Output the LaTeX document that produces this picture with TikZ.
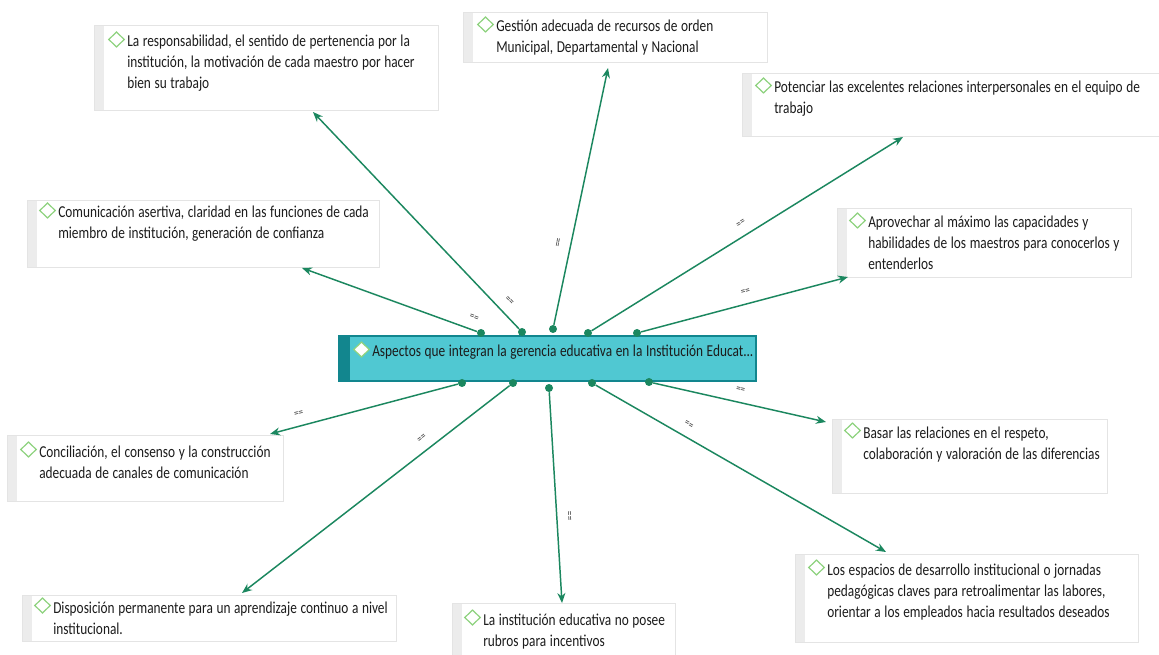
\documentclass[tikz,border=0pt]{standalone}
\usepackage{fontspec}
\setmainfont{Carlito}[FakeStretch=0.8]
\usetikzlibrary{arrows.meta,fit,shapes.geometric}
\definecolor{linkgreen}{RGB}{27,135,95}
\definecolor{hubfill}{RGB}{80,200,210}
\definecolor{hubdark}{RGB}{18,134,142}
\definecolor{leaf}{RGB}{142,210,126}
\definecolor{boxline}{RGB}{228,228,228}
\definecolor{boxstrip}{RGB}{236,236,236}
\definecolor{ink}{RGB}{28,28,28}
\begin{document}
\begin{tikzpicture}[x=0.75pt,y=-0.75pt,
    topic/.style={draw=boxline,fill=white,inner sep=0pt,line width=0.6pt,
      path picture={\fill[boxstrip] (path picture bounding box.north west)
        rectangle ([xshift=7.5pt]path picture bounding box.south west);}},
    words/.style={anchor=base west,inner sep=0pt,text width=320pt,text=ink,
      font=\fontsize{12.5}{15.75}\selectfont,
      execute at begin node={\raggedright\spaceskip 2.7pt\relax}},
    gem/.style={diamond,draw=leaf,line width=0.9pt,fill=white,inner sep=0pt,
      minimum width=12pt,minimum height=11.5pt},
    link/.style={draw=linkgreen,line width=1.1pt,-{Stealth[length=7.5pt,width=6pt]}},
    dot/.style={circle,fill=linkgreen,inner sep=0pt,minimum size=6pt},
    eq/.style={sloped,above=6.5pt,inner sep=0pt,text=ink!85,
      font=\fontsize{8.5}{8.5}\selectfont}]
    \useasboundingbox[fill=white] (0,0) rectangle (1159,655);
    %% central topic
    \node[fit={(339,336) (756,381)},inner sep=0pt,fill=hubfill,draw=hubdark,line width=1pt,
      path picture={\fill[hubdark] (path picture bounding box.north west)
        rectangle ([xshift=8pt]path picture bounding box.south west);}] (hub) {};
    \node[words] (hub-t) at (372,357) {Aspectos que integran la gerencia educativa en la Institución Educat...};
    %% upper topics
    \node[topic,fit={(94,25) (438,110)}] (resp) {};
    \node[words] (resp-t) at (127,47) {La responsabilidad, el sentido de pertenencia por la\\institución, la motivación de cada maestro por hacer\\bien su trabajo};
    \node[topic,fit={(463,12) (767,62)}] (gest) {};
    \node[words] (gest-t) at (496,32) {Gestión adecuada de recursos de orden\\Municipal, Departamental y Nacional};
    \node[topic,fit={(742,73) (1165,136)}] (pot) {};
    \node[words] (pot-t) at (774,93) {Potenciar las excelentes relaciones interpersonales en el equipo de\\trabajo};
    \node[topic,fit={(27,200) (379,267)}] (com) {};
    \node[words] (com-t) at (58,218) {Comunicación asertiva, claridad en las funciones de cada\\miembro de institución, generación de confianza};
    \node[topic,fit={(837,208) (1131,277)}] (aprov) {};
    \node[words] (aprov-t) at (868,228) {Aprovechar al máximo las capacidades y\\habilidades de los maestros para conocerlos y\\entenderlos};
    %% lower topics
    \node[topic,fit={(7,435) (283,501)}] (conc) {};
    \node[words] (conc-t) at (39,457) {Conciliación, el consenso y la construcción\\adecuada de canales de comunicación};
    \node[topic,fit={(832,419) (1107,493)}] (basar) {};
    \node[words] (basar-t) at (863,438) {Basar las relaciones en el respeto,\\colaboración y valoración de las diferencias};
    \node[topic,fit={(22,595) (396,641)}] (disp) {};
    \node[words] (disp-t) at (53,613) {Disposición permanente para un aprendizaje continuo a nivel\\institucional.};
    \node[topic,fit={(452,603) (675,662)}] (inst) {};
    \node[words] (inst-t) at (483,625) {La institución educativa no posee\\rubros para incentivos};
    \node[topic,fit={(795,554) (1138,642)}] (esp) {};
    \node[words] (esp-t) at (827,575) {Los espacios de desarrollo institucional o jornadas\\pedagógicas claves para retroalimentar las labores,\\orientar a los empleados hacia resultados deseados};
    \foreach \n in {hub,resp,gest,pot,com,aprov,conc,basar,disp,inst,esp}
        \node[gem] (\n-g) at ([shift={(-10.5,-7.5)}]\n-t.base west) {};
    %% connectors
    \node[dot] (d1) at (481,333) {};
    \node[dot] (d2) at (522,332) {};
    \node[dot] (d3) at (553,329) {};
    \node[dot] (d4) at (588,333) {};
    \node[dot] (d5) at (637,333) {};
    \node[dot] (d6) at (462,383) {};
    \node[dot] (d7) at (513,383) {};
    \node[dot] (d8) at (549,388) {};
    \node[dot] (d9) at (592,383) {};
    \node[dot] (d10) at (649,382) {};
    \coordinate (e1) at (302,268);
    \coordinate (e2) at (313,112);
    \coordinate (e3) at (608,68);
    \coordinate (e4) at (903,137);
    \coordinate (e5) at (848,277);
    \coordinate (e6) at (270,434);
    \coordinate (e7) at (242,593);
    \coordinate (e8) at (562,603);
    \coordinate (e9) at (886,552);
    \coordinate (e10) at (826,422);
    \foreach \i/\p in {1/0.04,2/0.09,3/0.31,4/0.5,5/0.52,6/0.83,7/0.3,8/0.59,9/0.3,10/0.49}
        \draw[link] (d\i) -- (e\i) node[eq,pos=\p] {==};
\end{tikzpicture}
\end{document}
